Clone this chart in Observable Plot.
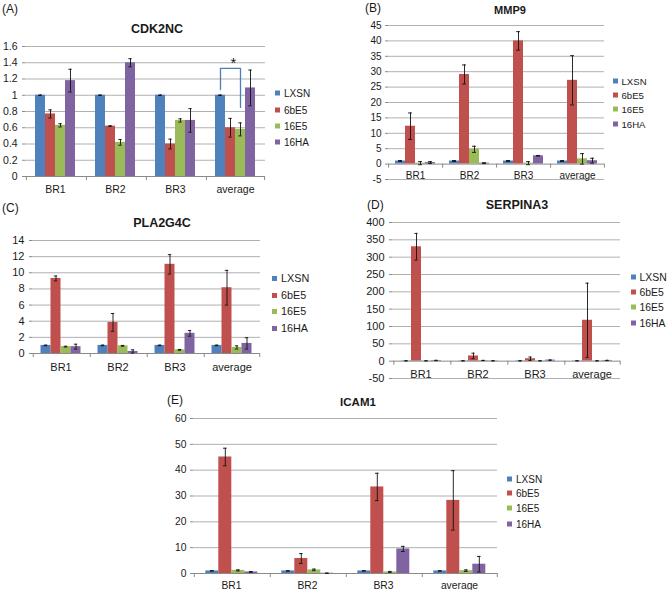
<!DOCTYPE html>
<html><head><meta charset="utf-8">
<script src="https://cdn.jsdelivr.net/npm/d3@7"></script>
<script src="https://cdn.jsdelivr.net/npm/@observablehq/plot@0.6"></script>
<style>
body{margin:0;width:667px;height:590px;position:relative;overflow:hidden;background:#fff;font-family:"Liberation Sans",Arial,sans-serif;color:#1a1a1a}
.abs{position:absolute;white-space:nowrap}
.title{font-weight:bold;transform:translate(-50%,-50%)}
.plab{transform:translateY(-50%)}
.leg{display:flex;align-items:center;transform:translateY(-50%)}
.sw{display:inline-block;width:5px;height:5px;margin-right:4px}
</style></head><body>
<script>
const categories = ["BR1", "BR2", "BR3", "average"];
const series = ["LXSN", "6bE5", "16E5", "16HA"];
const seriesColors = ["#4f81bd", "#c0504d", "#9bbb59", "#8064a2"];

// CDK2NC (A): rows = categories, columns = series
const cdk2ncMean = [[1.00, 0.77, 0.63, 1.18], [1.00, 0.62, 0.42, 1.40], [1.00, 0.40, 0.69, 0.69], [1.00, 0.60, 0.58, 1.09]];
const cdk2ncErr  = [[0.003, 0.05, 0.02, 0.14], [0.003, 0.004, 0.035, 0.05], [0.003, 0.06, 0.02, 0.145], [0.003, 0.115, 0.08, 0.22]];
const cdk2ncTicks = [0, 0.2, 0.4, 0.6, 0.8, 1, 1.2, 1.4, 1.6];
const bracketSeries = ["LXSN", "LXSN", "16E5", "16E5"];
const bracketY = [1.07, 1.33, 1.33, 0.85];

// MMP9 (B)
const mmp9Mean = [[1.0, 12.3, 0.3, 0.5], [1.0, 29.1, 4.8, 0.3], [1.0, 40.0, 0.3, 2.7], [1.0, 27.2, 1.7, 1.1]];
const mmp9Err  = [[0.15, 4.3, 0.5, 0.3], [0.15, 3.1, 1.0, 0.15], [0.15, 3.0, 0.5, 0.1], [0.15, 8.0, 1.7, 0.8]];
const mmp9Ticks = [-5, 0, 5, 10, 15, 20, 25, 30, 35, 40, 45];

// PLA2G4C (C)
const pla2g4cMean = [[1.0, 9.3, 0.85, 0.85], [1.0, 3.85, 0.95, 0.25], [1.0, 11.05, 0.45, 2.5], [1.0, 8.15, 0.75, 1.25]];
const pla2g4cErr  = [[0.04, 0.3, 0.05, 0.3], [0.04, 1.1, 0.05, 0.2], [0.04, 1.2, 0.05, 0.35], [0.04, 2.15, 0.2, 0.7]];
const pla2g4cTicks = [0, 2, 4, 6, 8, 10, 12, 14];

// SERPINA3 (D)
const serpina3Mean = [[1, 330, 1, 2], [1, 15, 2, 1], [1, 7, 1, 3], [1, 118, 1, 2]];
const serpina3Err  = [[0.3, 38.5, 0.3, 0.5], [0.3, 8, 0.3, 0.3], [0.3, 5, 0.3, 0.5], [0.3, 107, 0.3, 0.5]];
const serpina3Ticks = [-50, 0, 50, 100, 150, 200, 250, 300, 350, 400];

// ICAM1 (E)
const icam1Mean = [[1.0, 45.1, 1.2, 0.6], [1.0, 5.8, 1.4, 0.1], [1.0, 33.5, 0.6, 9.5], [1.0, 28.3, 1.1, 3.6]];
const icam1Err  = [[0.1, 3.4, 0.2, 0.15], [0.1, 1.9, 0.3, 0.05], [0.1, 5.3, 0.2, 1.0], [0.1, 11.5, 0.3, 3.0]];
const icam1Ticks = [0, 10, 20, 30, 40, 50, 60];

const panels = [
  {tag: "(A)", tagX: 2, tagY: 9, title: "CDK2NC", titleX: 157, titleY: 29, titleSize: 12.5,
   left: 0, top: 36, width: 270, height: 160, mt: 10, mr: 5, mb: 20, ml: 25,
   mean: cdk2ncMean, err: cdk2ncErr, ticks: cdk2ncTicks, po: 0.83, font: 10.5, tickPad: 5, lblDy: 13,
   legX: 275, legY: [93, 110, 126, 142], legFont: 10, bracket: true},
  {tag: "(B)", tagX: 365, tagY: 8, title: "MMP9", titleX: 510, titleY: 10, titleSize: 11,
   left: 350, top: 15, width: 260, height: 175, mt: 10, mr: 6, mb: 11, ml: 38,
   mean: mmp9Mean, err: mmp9Err, ticks: mmp9Ticks, po: 0.68, font: 10, tickPad: 4, lblDy: 12,
   legX: 612.5, legY: [81, 95, 109, 124], legFont: 9.6},
  {tag: "(C)", tagX: 2, tagY: 208, title: "PLA2G4C", titleX: 162, titleY: 223, titleSize: 12.5,
   left: 0, top: 230, width: 266, height: 140, mt: 10, mr: 5, mb: 17, ml: 31.5,
   mean: pla2g4cMean, err: pla2g4cErr, ticks: pla2g4cTicks, po: 0.7, font: 11, tickPad: 5, lblDy: 14,
   legX: 272, legY: [278, 295, 311, 328], legFont: 10.8},
  {tag: "(D)", tagX: 367, tagY: 205, title: "SERPINA3", titleX: 517, titleY: 205, titleSize: 12.5,
   left: 350, top: 212, width: 276, height: 173, mt: 10, mr: 5, mb: 7, ml: 40,
   mean: serpina3Mean, err: serpina3Err, ticks: serpina3Ticks, po: 0.67, font: 11, tickPad: 5, lblDy: 13,
   legX: 630.5, legY: [277, 292, 307, 323], legFont: 10.4},
  {tag: "(E)", tagX: 167, tagY: 400, title: "ICAM1", titleX: 358, titleY: 402, titleSize: 11.5,
   left: 155, top: 408, width: 347, height: 182, mt: 10, mr: 5, mb: 17, ml: 37.7,
   mean: icam1Mean, err: icam1Err, ticks: icam1Ticks, po: 0.85, font: 10.3, tickPad: 4, lblDy: 12,
   legX: 507, legY: [479, 493, 508, 524], legFont: 10}
];

function addDiv(cls, x, y, html, style) {
  const d = document.createElement("div");
  d.className = "abs " + cls;
  d.style.left = x + "px";
  d.style.top = y + "px";
  Object.assign(d.style, style || {});
  d.innerHTML = html;
  document.body.appendChild(d);
  return d;
}

for (const p of panels) {
  const rows = categories.flatMap((c, i) => series.map((s, j) => ({cat: c, ser: s, val: p.mean[i][j], err: p.err[i][j]})));
  const plotW = p.width - p.ml - p.mr;
  const plotH = p.height - p.mt - p.mb;
  const yMin = p.ticks[0], yMax = p.ticks[p.ticks.length - 1];
  const dpp = (yMax - yMin) / plotH;
  const step = (plotW / categories.length) / (series.length + 2 * p.po);
  const capInset = Math.max(0, (step - 4) / 2);
  const edge = step / 2 + p.po * step;
  const fmt = d => String(+d.toFixed(2));
  const marks = [
    Plot.ruleY(p.ticks.filter(t => t !== 0), {y: d => d, stroke: "#b0b0b0", strokeWidth: 1}),
    Plot.barY(rows, {fx: "cat", x: "ser", y: "val", fill: "ser"}),
    Plot.ruleY([0], {y: d => d, stroke: "#8a8a8a"}),
    // category boundary tick marks below the zero line
    Plot.ruleX(categories, {fx: d => d, x: () => series[0], y1: () => 0, y2: () => -4 * dpp, dx: -edge, stroke: "#8a8a8a"}),
    Plot.ruleX(categories.slice(-1), {fx: d => d, x: () => series[series.length - 1], y1: () => 0, y2: () => -4 * dpp, dx: edge, stroke: "#8a8a8a"}),
    Plot.ruleX(rows, {fx: "cat", x: "ser", y1: d => d.val - d.err, y2: d => d.val + d.err, stroke: "#111", strokeWidth: 0.9}),
    Plot.tickY(rows, {fx: "cat", x: "ser", y: d => d.val - d.err, stroke: "#111", strokeWidth: 0.9, insetLeft: capInset, insetRight: capInset}),
    Plot.tickY(rows, {fx: "cat", x: "ser", y: d => d.val + d.err, stroke: "#111", strokeWidth: 0.9, insetLeft: capInset, insetRight: capInset}),
    Plot.text(categories, {fx: d => d, y: d => 0, text: d => d, dy: p.lblDy, fontSize: p.font, fill: "#1a1a1a"}),
    Plot.axisY({ticks: p.ticks, tickFormat: fmt, tickSize: 3, tickPadding: p.tickPad, label: null, line: true, stroke: "#8a8a8a", fill: "#1a1a1a", fontSize: p.font})
  ];
  if (p.bracket) {
    const pts = bracketSeries.map((s, k) => ({cat: "average", ser: s, y: bracketY[k]}));
    marks.push(Plot.line(pts, {fx: "cat", x: "ser", y: "y", stroke: "#4a7ebb", strokeWidth: 1.3}));
    marks.push(Plot.text([{cat: "average", ser: "6bE5", y: 1.40}], {fx: "cat", x: "ser", y: "y", text: () => "*", fontSize: 15, dx: 3, fill: "#1a1a1a"}));
  }
  const svg = Plot.plot({
    width: p.width, height: p.height,
    marginTop: p.mt, marginRight: p.mr, marginBottom: p.mb, marginLeft: p.ml,
    style: {fontFamily: "Liberation Sans, Arial, sans-serif", fontSize: p.font + "px", background: "transparent", color: "#1a1a1a", overflow: "visible"},
    fx: {domain: categories, padding: 0, axis: null, label: null},
    x: {domain: series, paddingInner: 0, paddingOuter: p.po, axis: null},
    y: {domain: [yMin, yMax], axis: null},
    color: {domain: series, range: seriesColors},
    marks
  });
  const holder = addDiv("", p.left, p.top, "");
  holder.appendChild(svg);
  addDiv("plab", p.tagX, p.tagY, p.tag, {fontSize: "12px"});
  addDiv("title", p.titleX, p.titleY, p.title, {fontSize: p.titleSize + "px"});
  series.forEach((s, j) => {
    addDiv("leg", p.legX, p.legY[j], `<span class="sw" style="background:${seriesColors[j]}"></span>${s}`, {fontSize: p.legFont + "px"});
  });
}
</script>
</body></html>
